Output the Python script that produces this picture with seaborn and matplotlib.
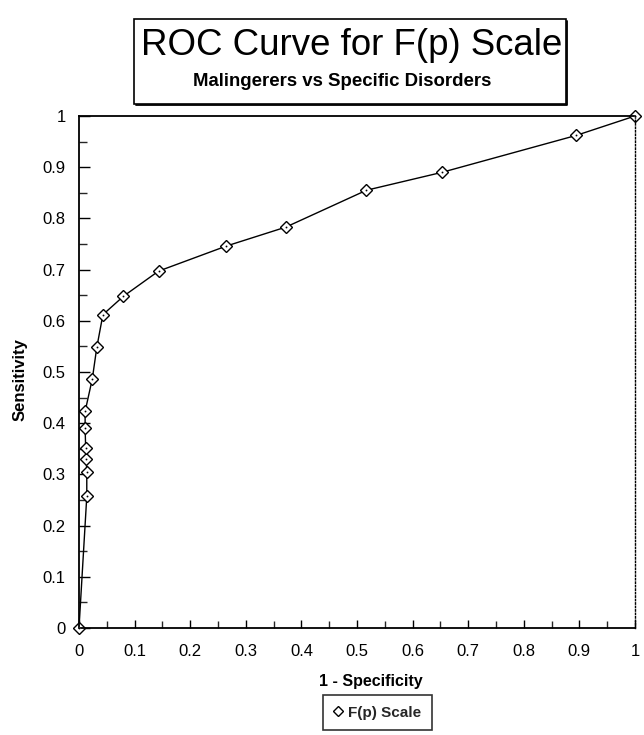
import matplotlib
matplotlib.use("Agg")
import matplotlib.pyplot as plt
import seaborn as sns
import pandas as pd
from matplotlib.patches import Rectangle
from matplotlib.lines import Line2D
from matplotlib.ticker import MultipleLocator, FuncFormatter

# ---- data ----
fpr = [0.0, 0.014, 0.014, 0.013, 0.012, 0.011, 0.011, 0.024, 0.032, 0.043,
       0.08, 0.143, 0.265, 0.372, 0.517, 0.653, 0.894, 1.0]
tpr = [0.0, 0.257, 0.305, 0.33, 0.352, 0.39, 0.423, 0.487, 0.548, 0.612,
       0.648, 0.697, 0.746, 0.783, 0.855, 0.89, 0.962, 1.0]
series_name = "F(p) Scale"
title = "ROC Curve for F(p) Scale"
subtitle = "Malingerers vs Specific Disorders"
x_label = "1 - Specificity"
y_label = "Sensitivity"

df = pd.DataFrame({"fpr": fpr, "tpr": tpr})

sns.set_style("white")
plt.rcParams["font.family"] = ["Liberation Sans", "DejaVu Sans"]

W, H = 644, 735
fig = plt.figure(figsize=(W / 100, H / 100), dpi=100)
L, R, T, B = 79, 635, 116, 628


def fx(px):
    return px / W


def fy(py):
    return 1 - py / H


ax = fig.add_axes([fx(L), fy(B), (R - L) / W, (B - T) / H])

sns.lineplot(data=df, x="fpr", y="tpr", sort=False, estimator=None,
             color="black", linewidth=1.0, marker="D", markersize=6.3,
             markerfacecolor="white", markeredgecolor="black",
             markeredgewidth=1.0, ax=ax, legend=False, clip_on=False)
# centre dot inside each diamond
sns.scatterplot(data=df, x="fpr", y="tpr", color="black", s=2, ax=ax,
                legend=False, zorder=5, clip_on=False)

ax.set_xlim(0, 1)
ax.set_ylim(0, 1)

fmt = FuncFormatter(lambda v, p: "0" if abs(v) < 1e-9 else ("1" if abs(v - 1) < 1e-9 else f"{v:.1f}"))
for axis in (ax.xaxis, ax.yaxis):
    axis.set_major_locator(MultipleLocator(0.1))
    axis.set_minor_locator(MultipleLocator(0.05))
    axis.set_major_formatter(fmt)

ax.tick_params(axis="y", which="major", direction="in", length=8, width=1,
               labelsize=12, pad=9.5, left=True, colors="black")
ax.tick_params(axis="y", which="minor", direction="in", length=6, width=1, left=True)
ax.tick_params(axis="x", which="major", direction="in", length=6, width=1,
               labelsize=12, pad=11.5, bottom=True, colors="black")
ax.tick_params(axis="x", which="minor", direction="in", length=5, width=1, bottom=True)

for s in ("left", "bottom", "top"):
    ax.spines[s].set_color("black")
    ax.spines[s].set_linewidth(1.3)
ax.spines["right"].set_color("black")
ax.spines["right"].set_linestyle((0, (1, 1.5)))
ax.spines["right"].set_linewidth(1.0)

ax.set_xlabel("")
ax.set_ylabel("")
fig.text(fx(20), fy(380), y_label, rotation=90, ha="center", va="center",
         fontsize=12, fontweight="bold", color="black")
fig.text(fx(371), fy(686), x_label, ha="center", va="baseline",
         fontsize=11.5, fontweight="bold", color="black")

# title box (with a slightly heavier shadow edge)
x0, x1, y0, y1 = 134, 566, 19, 104
fig.patches.append(Rectangle((fx(x0), fy(y1)), (x1 - x0) / W, (y1 - y0) / H,
                             transform=fig.transFigure, fill=False,
                             edgecolor="black", linewidth=1.2))
fig.add_artist(Line2D([fx(x0 + 2), fx(x1 + 1), fx(x1 + 1)],
                      [fy(y1 + 1), fy(y1 + 1), fy(y0 + 2)],
                      transform=fig.transFigure, color="black", linewidth=1.3))
fig.text(fx(141), fy(55), title, ha="left", va="baseline", fontsize=26.4,
         color="black")
fig.text(fx(193), fy(86), subtitle, ha="left", va="baseline", fontsize=13.4,
         fontweight="bold", color="black")

# legend
handle = Line2D([], [], linestyle="none", marker="D", markersize=5,
                markerfacecolor="white", markeredgecolor="black")
leg = fig.legend([handle], [series_name], loc="upper right",
                 bbox_to_anchor=(fx(432), fy(695)), frameon=True,
                 fancybox=False, fontsize=11, handlelength=0.6,
                 handletextpad=0.35, borderpad=0.7, borderaxespad=0)
leg.get_frame().set_edgecolor("black")
leg.get_frame().set_linewidth(1.2)
for t in leg.get_texts():
    t.set_fontweight("bold")

fig.savefig("out.png", dpi=100)
